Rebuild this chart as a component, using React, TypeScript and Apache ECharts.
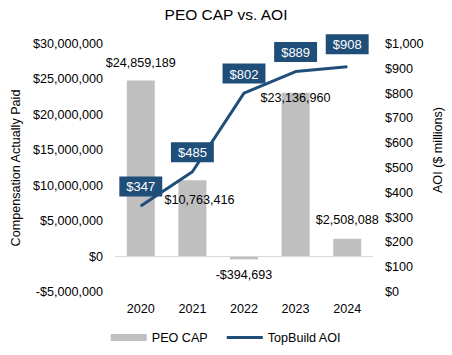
import React, { useEffect, useRef } from "react";
import * as echarts from "echarts";

const categories = ["2020", "2021", "2022", "2023", "2024"];
const peoCap = [24859189, 10763416, -394693, 23136960, 2508088];
const aoi = [347, 485, 802, 889, 908];
const leftTicks = [-5000000, 30000000, 5000000];
const rightTicks = [0, 1000, 100];

const fmtMoney = (v: number) =>
  (v < 0 ? "-$" : "$") + Math.abs(v).toLocaleString("en-US");

const barLabelOffsets: Array<[string, number[]]> = [
  ["top", [0, -6]],
  ["top", [7, 31]],
  ["bottom", [0, 4]],
  ["top", [0, 17]],
  ["top", [0, -7]],
];
const lineLabelOffsets = [[0, 1], [0, 1], [0, 1], [0, 1], [0, -2]];

export default function App() {
  const ref = useRef<HTMLDivElement>(null);
  useEffect(() => {
    if (!ref.current) return;
    const chart = echarts.init(ref.current, null, { renderer: "svg" });
    const font = "Liberation Sans, Arial, sans-serif";
    const fs = 12.6;
    const navy = "#1F4E79";
    chart.setOption({
      animation: false,
      textStyle: { fontFamily: font },
      title: {
        text: "PEO CAP vs. AOI",
        left: "center",
        top: 1,
        textStyle: { fontSize: 15.5, fontWeight: "normal", color: "#000", fontFamily: font },
      },
      grid: { left: 115, right: 79, top: 44, bottom: 63 },
      legend: {
        bottom: 6,
        left: "center",
        itemWidth: 36,
        itemHeight: 7,
        itemGap: 19,
        textStyle: { fontSize: fs, color: "#000", fontFamily: font },
        data: [
          { name: "PEO CAP", icon: "rect" },
          { name: "TopBuild AOI", icon: "path://M0,0 L36,0 L36,3 L0,3 Z" },
        ],
      },
      xAxis: {
        type: "category",
        data: categories,
        axisLine: { show: false, onZero: false },
        axisTick: { show: false },
        axisLabel: { fontSize: fs, color: "#000", margin: 10, fontFamily: font },
      },
      yAxis: [
        {
          type: "value",
          min: leftTicks[0],
          max: leftTicks[1],
          interval: leftTicks[2],
          name: "Compensation Actually Paid",
          nameLocation: "middle",
          nameRotate: 90,
          nameGap: 90,
          nameTextStyle: { fontSize: fs, color: "#000", fontFamily: font },
          splitLine: { show: false },
          axisLine: { show: false },
          axisTick: { show: false },
          axisLabel: {
            fontSize: fs,
            color: "#000",
            margin: 12,
            fontFamily: font,
            formatter: (v: number) => fmtMoney(v),
          },
        },
        {
          type: "value",
          min: rightTicks[0],
          max: rightTicks[1],
          interval: rightTicks[2],
          splitLine: { show: false },
          axisLine: { show: false },
          axisTick: { show: false },
          axisLabel: {
            fontSize: fs,
            color: "#000",
            margin: 12,
            fontFamily: font,
            formatter: (v: number) => "$" + v.toLocaleString("en-US"),
          },
        },
      ],
      graphic: [
        {
          type: "text",
          x: 438,
          y: 150,
          rotation: Math.PI / 2,
          style: {
            text: "AOI ($ millions)",
            fontSize: fs,
            fill: "#000",
            fontFamily: font,
            align: "center",
            verticalAlign: "middle",
          },
        },
      ],
      series: [
        {
          name: "PEO CAP",
          type: "bar",
          yAxisIndex: 0,
          barWidth: 28,
          itemStyle: { color: "#bfbfbf" },
          data: peoCap.map((v, i) => ({
            value: v,
            label: {
              show: true,
              position: barLabelOffsets[i][0],
              offset: barLabelOffsets[i][1],
              formatter: () => fmtMoney(v),
              fontSize: fs,
              color: "#000",
              fontFamily: font,
            },
          })),
          markLine: {
            silent: true,
            symbol: "none",
            label: { show: false },
            lineStyle: { color: "#d9d9d9", width: 1, type: "solid" },
            data: [{ yAxis: 0 }],
          },
          z: 2,
        },
        {
          name: "TopBuild AOI",
          type: "line",
          yAxisIndex: 1,
          symbol: "circle",
          symbolSize: 1,
          showSymbol: true,
          lineStyle: { color: navy, width: 3 },
          itemStyle: { color: navy },
          label: {
            show: true,
            position: "top",
            distance: 10,
            formatter: (p: any) => "$" + p.value,
            fontSize: 13,
            color: "#fff",
            backgroundColor: navy,
            padding: [4, 7, 3, 7],
            fontFamily: font,
          },
          data: aoi.map((v, i) => ({
            value: v,
            label: { offset: lineLabelOffsets[i] },
          })),
          z: 5,
        },
      ],
    });
    return () => chart.dispose();
  }, []);
  return <div ref={ref} style={{ width: 452, height: 355, position: "absolute", left: 0, top: 0, background: "#fff" }} />;
}
